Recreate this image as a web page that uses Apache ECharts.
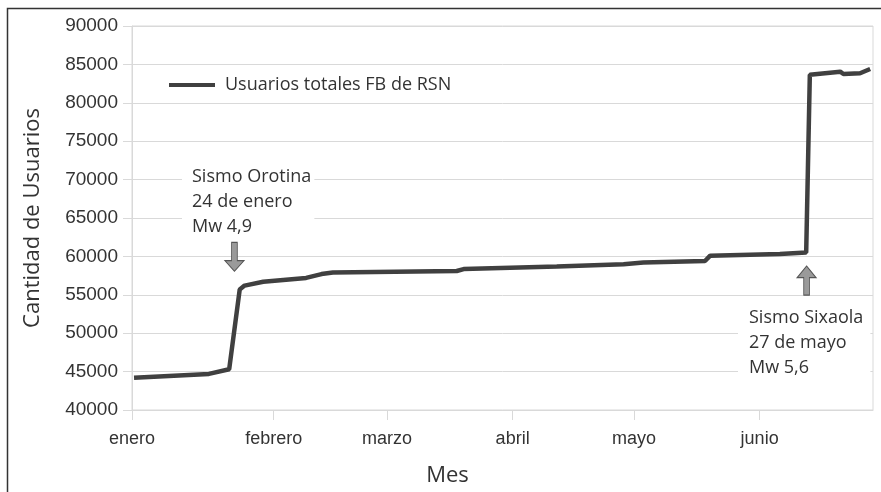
<!DOCTYPE html>
<html>
<head>
<meta charset="utf-8">
<script src="https://cdn.jsdelivr.net/npm/echarts@6/dist/echarts.min.js"></script>
<style>
html,body{margin:0;padding:0;background:#fff;}
#chart{width:881px;height:492px;}
</style>
</head>
<body>
<div id="chart"></div>
<script>
// dias en el eje (unidades del eje x) y usuarios
var dias = [0.5, 19, 24, 26.6, 27.8, 32.4, 43, 46.8, 49.6, 80.2, 81.9, 104.9, 121.4, 126.3, 141.5, 142.8, 160, 166.5, 167.4, 174.9, 175.7, 179.8, 182.3];
var usuarios = [44200, 44700, 45300, 55700, 56200, 56700, 57200, 57700, 57900, 58100, 58350, 58680, 58980, 59200, 59400, 60100, 60300, 60500, 83650, 84050, 83750, 83850, 84400];

// inicio de cada mes en el eje x
var mesInicio = [0, 35, 63, 94, 124, 155];
var meses = ['enero', 'febrero', 'marzo', 'abril', 'mayo', 'junio'];

var serieNombre = 'Usuarios totales FB de RSN';

var puntos = [];
for (var i = 0; i < dias.length; i++) {
    puntos.push([dias[i], usuarios[i]]);
}

var gris = '#d9d9d9';
var chart = echarts.init(document.getElementById('chart'));
var option = {
    animation: false,
    grid: {
        left: 132, right: 8, top: 26, bottom: 79,
        show: true, borderColor: gris, borderWidth: 1
    },
    legend: {
        data: [serieNombre],
        left: 164, top: 71,
        icon: 'rect', itemWidth: 46, itemHeight: 4,
        textStyle: {fontFamily: '"Open Sans"', fontSize: 18, color: '#333', padding: [0, 0, 0, 5]}
    },
    xAxis: {
        type: 'value', min: 0, max: 183,
        name: 'Mes', nameLocation: 'middle', nameGap: 55,
        nameTextStyle: {fontFamily: '"Open Sans"', fontSize: 22, color: '#333', padding: [0, 110, 0, 0]},
        axisLine: {lineStyle: {color: gris}},
        axisTick: {show: true, length: 10, lineStyle: {color: gris}, customValues: mesInicio},
        axisLabel: {
            customValues: mesInicio, margin: 20,
            formatter: function (v) {
                var k = mesInicio.indexOf(v);
                return k >= 0 ? '{m|' + meses[k] + '}' : '';
            },
            rich: {
                m: {fontFamily: '"Liberation Sans", Arial', fontSize: 18, color: '#333'}
            }
        },
        splitLine: {show: false}
    },
    yAxis: {
        type: 'value', min: 40000, max: 90000, interval: 5000,
        name: 'Cantidad de Usuarios', nameLocation: 'middle', nameGap: 88,
        nameTextStyle: {fontFamily: '"Open Sans"', fontSize: 22, color: '#333'},
        axisLine: {show: true, lineStyle: {color: gris}},
        axisTick: {show: true, length: 9, lineStyle: {color: gris}},
        axisLabel: {
            margin: 14, fontFamily: '"Liberation Sans", Arial', fontSize: 19, color: '#333',
            formatter: function (v) { return String(v); }
        },
        splitLine: {lineStyle: {color: gris}}
    },
    series: [{
        name: serieNombre,
        type: 'line',
        data: puntos,
        showSymbol: false,
        symbol: 'none',
        lineStyle: {color: '#404040', width: 4.5},
        itemStyle: {color: '#404040'},
        markPoint: {
            silent: true,
            label: {show: false},
            data: [
                {
                    coord: [25.3, 59950],
                    symbol: 'path://M7,0 L13,0 L13,19 L20,19 L10,30 L0,19 L7,19 Z',
                    symbolSize: [19, 29],
                    itemStyle: {color: '#9a9a9a', borderColor: '#555', borderWidth: 1}
                },
                {
                    coord: [166.6, 56850],
                    symbol: 'path://M10,0 L20,12 L13,12 L13,30 L7,30 L7,12 L0,12 Z',
                    symbolSize: [19, 29],
                    itemStyle: {color: '#9a9a9a', borderColor: '#555', borderWidth: 1}
                }
            ]
        }
    }],
    graphic: [
        {
            type: 'rect', z: 100, silent: true,
            shape: {x: 7.5, y: 8.5, width: 900, height: 500},
            style: {fill: 'none', stroke: '#333', lineWidth: 1.5}
        },
        {
            type: 'text', z: 50, x: 182, y: 164,
            style: {
                text: 'Sismo Orotina\n24 de enero\nMw 4,9',
                font: '18px "Open Sans"', fill: '#333', lineHeight: 25,
                backgroundColor: '#fff', padding: [0, 3, 0, 10]
            }
        },
        {
            type: 'text', z: 50, x: 738, y: 305,
            style: {
                text: 'Sismo Sixaola\n27 de mayo\nMw 5,6',
                font: '18px "Open Sans"', fill: '#333', lineHeight: 25,
                backgroundColor: '#fff', padding: [0, 7, 0, 11]
            }
        }
    ]
};
chart.setOption(option);
</script>
</body>
</html>
